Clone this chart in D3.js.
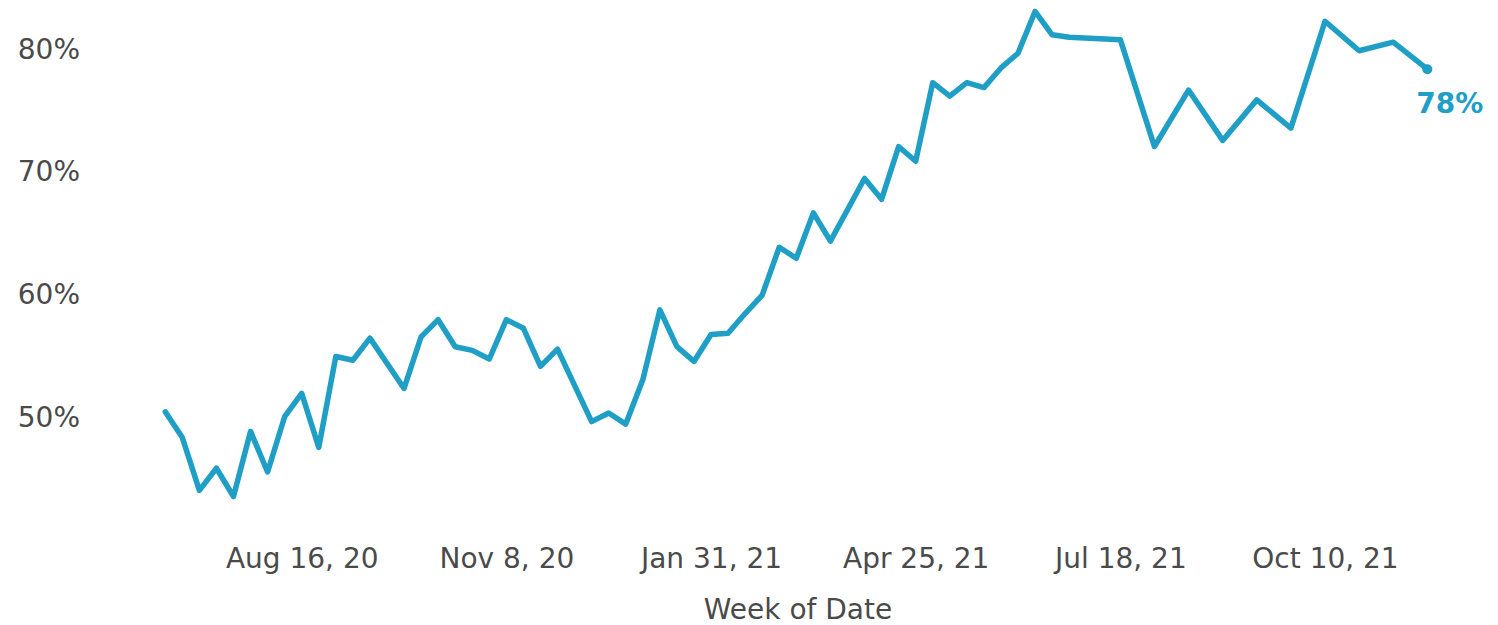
<!DOCTYPE html>
<html>
<head>
<meta charset="utf-8">
<script src="https://cdn.jsdelivr.net/npm/d3@7"></script>
<style>
  html, body { margin: 0; padding: 0; background: #fff; }
  svg { display: block; }
</style>
</head>
<body>
<div id="chart"></div>
<script>
// Weekly share
const weeks = [
  '2020-06-21', '2020-06-28', '2020-07-05', '2020-07-12', '2020-07-19', '2020-07-26',
  '2020-08-02', '2020-08-09', '2020-08-16', '2020-08-23', '2020-08-30', '2020-09-06',
  '2020-09-13', '2020-09-27', '2020-10-04', '2020-10-11', '2020-10-18', '2020-10-25',
  '2020-11-01', '2020-11-08', '2020-11-15', '2020-11-22', '2020-11-29', '2020-12-13',
  '2020-12-20', '2020-12-27', '2021-01-03', '2021-01-10', '2021-01-17', '2021-01-24',
  '2021-01-31', '2021-02-07', '2021-02-14', '2021-02-21', '2021-02-28', '2021-03-07',
  '2021-03-14', '2021-03-21', '2021-04-04', '2021-04-11', '2021-04-18', '2021-04-25',
  '2021-05-02', '2021-05-09', '2021-05-16', '2021-05-23', '2021-05-30', '2021-06-06',
  '2021-06-13', '2021-06-20', '2021-06-27', '2021-07-18', '2021-08-01', '2021-08-15',
  '2021-08-29', '2021-09-12', '2021-09-26', '2021-10-10', '2021-10-24', '2021-11-07',
  '2021-11-21'
];

const values = [
  50.4, 48.3, 44.0, 45.8, 43.5, 48.8,
  45.5, 50.0, 51.9, 47.5, 54.9, 54.6,
  56.4, 52.3, 56.5, 57.9, 55.7, 55.4,
  54.7, 57.9, 57.2, 54.1, 55.5, 49.6,
  50.3, 49.4, 53.0, 58.7, 55.7, 54.5,
  56.7, 56.8, 58.4, 59.9, 63.8, 62.9,
  66.6, 64.3, 69.4, 67.7, 72.0, 70.8,
  77.2, 76.1, 77.2, 76.8, 78.4, 79.6,
  83.0, 81.1, 80.9, 80.7, 72.0, 76.6,
  72.5, 75.8, 73.5, 82.2, 79.8, 80.5,
  78.3
];

const xTicks = ['2020-08-16', '2020-11-08', '2021-01-31', '2021-04-25', '2021-07-18', '2021-10-10'];
const yTicks = [50, 60, 70, 80];

const width = 1498;
const height = 625;
const lineColor = '#1f9fc5';
const textColor = '#4a4a4a';
const font = '"DejaVu Sans", Verdana, sans-serif';

const parseDate = d3.utcParse('%Y-%m-%d');
const data = weeks.map((w, i) => ({ date: parseDate(w), value: values[i] }));

const svg = d3.select('#chart')
  .append('svg')
  .attr('width', width)
  .attr('height', height);

const x = d3.scaleUtc()
  .domain([parseDate('2020-08-16'), parseDate('2021-10-10')])
  .range([301.7, 1325]);

const y = d3.scaleLinear()
  .domain([50, 80])
  .range([416.7, 48.3]);

// X axis labels
const xAxis = svg.append('g')
  .attr('transform', 'translate(0,558)')
  .call(d3.axisBottom(x)
    .tickValues(xTicks.map(parseDate))
    .tickSize(0)
    .tickPadding(0)
    .tickFormat(d3.utcFormat('%b %-d, %y')));
xAxis.select('.domain').remove();
xAxis.selectAll('text')
  .attr('dy', '0.35em')
  .style('font-family', font)
  .style('font-size', '28px')
  .attr('fill', textColor);

// Y axis labels
const yAxis = svg.append('g')
  .attr('transform', 'translate(80,0)')
  .call(d3.axisLeft(y)
    .tickValues(yTicks)
    .tickSize(0)
    .tickPadding(0)
    .tickFormat(d => d + '%'));
yAxis.select('.domain').remove();
yAxis.selectAll('text')
  .attr('dy', '0.35em')
  .style('font-family', font)
  .style('font-size', '28px')
  .attr('fill', textColor);

// Axis title
svg.append('text')
  .attr('x', 798)
  .attr('y', 619)
  .attr('text-anchor', 'middle')
  .style('font-family', font)
  .style('font-size', '28px')
  .attr('fill', textColor)
  .text('Week of Date');

// The line
const line = d3.line()
  .x(d => x(d.date))
  .y(d => y(d.value));

svg.append('path')
  .datum(data)
  .attr('fill', 'none')
  .attr('stroke', lineColor)
  .attr('stroke-width', 5.5)
  .attr('stroke-linejoin', 'round')
  .attr('stroke-linecap', 'round')
  .attr('d', line);

// Last point marker and label
const last = data[data.length - 1];
svg.append('circle')
  .attr('cx', x(last.date))
  .attr('cy', y(last.value))
  .attr('r', 5)
  .attr('fill', lineColor);

svg.append('text')
  .attr('x', x(last.date) - 11)
  .attr('y', y(last.value) + 44)
  .style('font-family', font)
  .style('font-size', '28px')
  .style('font-weight', 'bold')
  .attr('fill', lineColor)
  .text(Math.round(last.value) + '%');
</script>
</body>
</html>
